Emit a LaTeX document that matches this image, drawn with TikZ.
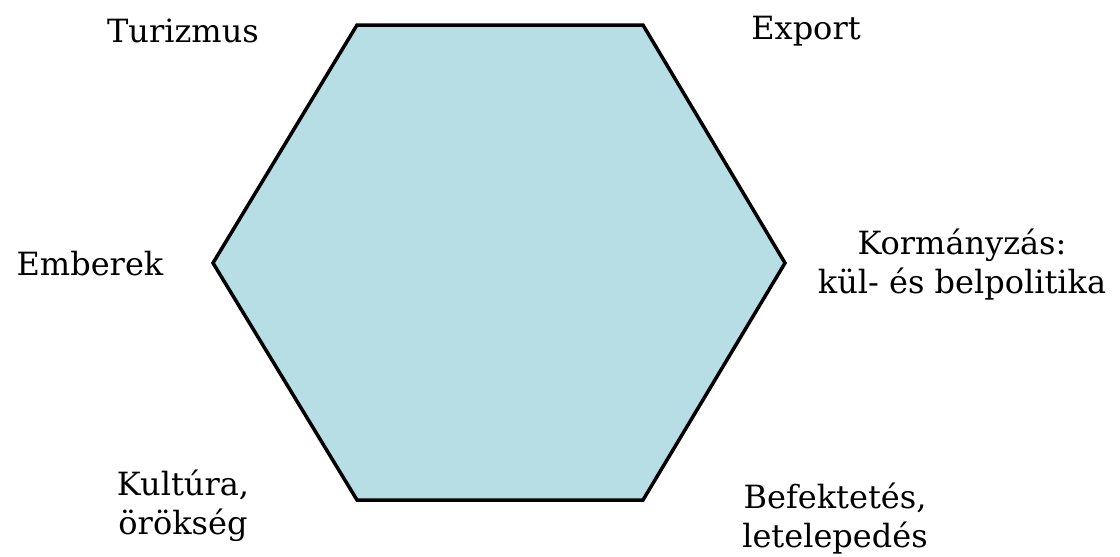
\documentclass[tikz,border=0pt]{standalone}
\usepackage{fontspec}
\setmainfont{DejaVu Serif}
\definecolor{hexfill}{RGB}{183,222,228}

\begin{document}
\begin{tikzpicture}[x=1pt,y=-1pt,
  lbl/.style={font=\fontsize{32}{39}\selectfont,align=center,inner sep=0pt}]

% Frame
\useasboundingbox (0,0) rectangle (1120,557);

% Hexagon corners
\coordinate (tl) at (357,25);
\coordinate (tr) at (643,25);
\coordinate (r) at (785,263);
\coordinate (br) at (643,500);
\coordinate (bl) at (357,500);
\coordinate (l) at (213,263);

\draw[line width=3.5pt,line join=miter,fill=hexfill] (tl) -- (tr) -- (r) -- (br) -- (bl) -- (l) -- cycle;

% Labels
\node[lbl] (turizmus) at (183,31) {Turizmus};
\node[lbl] (export) at (806,31) {Export};
\node[lbl] (emberek) at (90,264) {Emberek};
\node[lbl] (kormany) at (962,265) {Kormányzás:\\kül- és belpolitika};
\node[lbl] (kultura) at (183,506) {Kultúra,\\örökség};
\node[lbl] (befekt) at (835,519) {Befektetés,\\letelepedés};
\end{tikzpicture}
\end{document}
